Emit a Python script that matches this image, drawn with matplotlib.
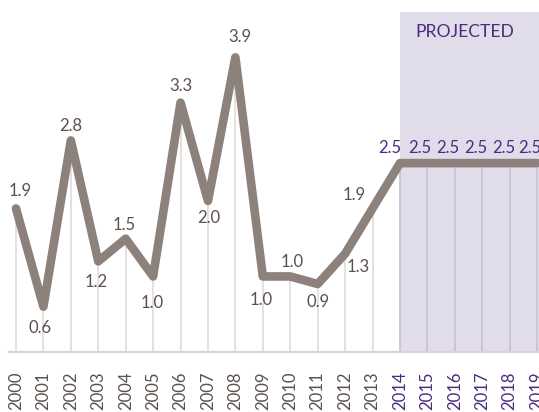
import matplotlib.pyplot as plt

years = [2000, 2001, 2002, 2003, 2004, 2005, 2006, 2007, 2008, 2009,
         2010, 2011, 2012, 2013, 2014, 2015, 2016, 2017, 2018, 2019]
values = [1.9, 0.6, 2.8, 1.2, 1.5, 1.0, 3.3, 2.0, 3.9, 1.0,
          1.0, 0.9, 1.3, 1.9, 2.5, 2.5, 2.5, 2.5, 2.5, 2.5]
first_projected = 2014

# label offsets in pixels (dx, dy)
offsets = [(4, 17), (-3, -21), (0, 14), (-2, -21), (-2, 14), (-1, -27),
           (0, 17), (1, -17), (4, 20), (-2, -24), (2, 14), (0, -18),
           (13, -13), (-18, 13), (-10, 15), (-8, 15), (-7, 15), (-6, 15),
           (-6, 15), (-7, 15)]

line_col = "#8c817b"
hist_txt = "#5b504c"
proj_txt = "#4b2c7d"
shade = "#e0dcea"
grid_hist = "#e0dbd8"
grid_proj = "#c6bedb"

plt.rcParams['font.family'] = ['Lato', 'DejaVu Sans']

fig = plt.figure(figsize=(5.39, 4.12), dpi=100)
ax = fig.add_axes([9 / 539, 1 - 352 / 412, 530 / 539, 340 / 412])

x = list(range(len(years)))
proj_i = years.index(first_projected)

ax.axvspan(proj_i, len(years) + 1, color=shade, lw=0, zorder=0)

for i, v in zip(x, values):
    ax.vlines(i, 0, v, color=grid_proj if i >= proj_i else grid_hist,
              lw=1.2, zorder=1)

ax.plot(x, values, color=line_col, lw=6.2, solid_joinstyle='round',
        solid_capstyle='round', zorder=3)

for i, v in zip(x, values):
    dx, dy = offsets[i]
    ax.annotate(f"{v:.1f}", (i, v), xytext=(dx, dy), textcoords='offset pixels',
                ha='center', va='center', fontsize=12,
                color=proj_txt if i >= proj_i else hist_txt, zorder=4)

ax.text(proj_i + 0.55, 4.23, "PROJECTED", fontsize=12.6, color=proj_txt,
        ha='left', va='center')

ax.set_xlim(-0.255, len(years) - 1 + 0.07)
ax.set_ylim(0, 4.5)

for s in ['top', 'left', 'right']:
    ax.spines[s].set_visible(False)
ax.spines['bottom'].set_color("#d9d4d1")
ax.spines['bottom'].set_linewidth(1.6)
ax.spines['bottom'].set_zorder(5)

ax.set_yticks([])
ax.set_xticks(x)
ax.set_xticklabels([str(y) for y in years], rotation=90, fontsize=12)
ax.tick_params(axis='x', length=0, pad=14)
for i, lbl in enumerate(ax.get_xticklabels()):
    lbl.set_color(proj_txt if i >= proj_i else hist_txt)

fig.savefig("out.png", dpi=100)
